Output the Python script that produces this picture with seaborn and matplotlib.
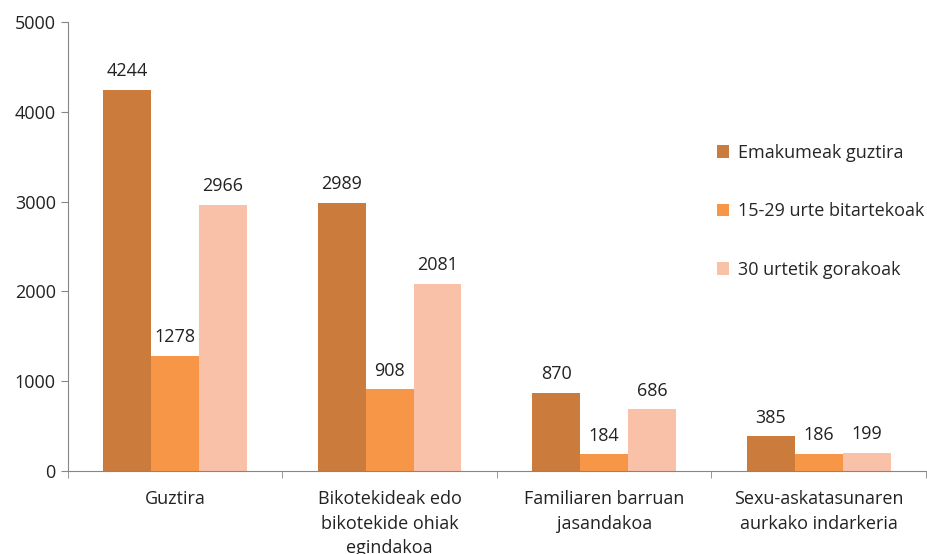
import matplotlib
matplotlib.use("Agg")
import matplotlib.pyplot as plt
import seaborn as sns
import pandas as pd

# datuak
categories = ['Guztira', 'Bikotekideak edo\nbikotekide ohiak\negindakoa',
              'Familiaren barruan\njasandakoa', 'Sexu-askatasunaren\naurkako indarkeria']
series = ['Emakumeak guztira', '15-29 urte bitartekoak', '30 urtetik gorakoak']
emakumeak = [4244, 2989, 870, 385]
gazteak = [1278, 908, 184, 186]
helduak = [2966, 2081, 686, 199]
colors = ['#CB7B3C', '#F79646', '#F9C1A8']

rows = []
for name, vals in zip(series, [emakumeak, gazteak, helduak]):
    for cat, v in zip(categories, vals):
        rows.append({'cat': cat, 'serie': name, 'value': v})
df = pd.DataFrame(rows)

sns.set_style('white')
plt.rcParams['font.family'] = ['Open Sans', 'DejaVu Sans']

fig = plt.figure(figsize=(9.27, 5.54), dpi=100)
ax = fig.add_axes([0.073, 0.15, 0.926, 0.81])

sns.barplot(data=df, x='cat', y='value', hue='serie', palette=colors,
            width=0.67, gap=0, saturation=1, linewidth=0, ax=ax, legend=True)

for cont in ax.containers:
    ax.bar_label(cont, padding=7, fontsize=13, color='#222222')

ax.set_ylim(0, 5000)
ax.set_xlim(-0.5, 3.5)
ax.set_yticks(range(0, 5001, 1000))
ax.set_xlabel('')
ax.set_ylabel('')

for s in ['top', 'right']:
    ax.spines[s].set_visible(False)
for s in ['left', 'bottom']:
    ax.spines[s].set_color('#868686')

ax.tick_params(axis='y', length=5, color='#868686', labelsize=13, labelcolor='#222222', left=True)
ax.tick_params(axis='x', which='major', length=0, labelsize=13, labelcolor='#222222', pad=14)
for lbl in ax.get_xticklabels():
    lbl.set_linespacing(1.45)
ax.set_xticks([-0.5, 0.5, 1.5, 2.5, 3.5], minor=True)
ax.tick_params(axis='x', which='minor', length=5, color='#868686', bottom=True)

# legenda eskuinean, sarrera arteko tarte handiarekin
leg = ax.legend(loc='upper left', bbox_to_anchor=(0.737, 0.765), frameon=False,
                fontsize=13, handlelength=0.7, handleheight=0.7,
                handletextpad=0.5, labelspacing=2.25)

plt.savefig('out.png', dpi=100)
